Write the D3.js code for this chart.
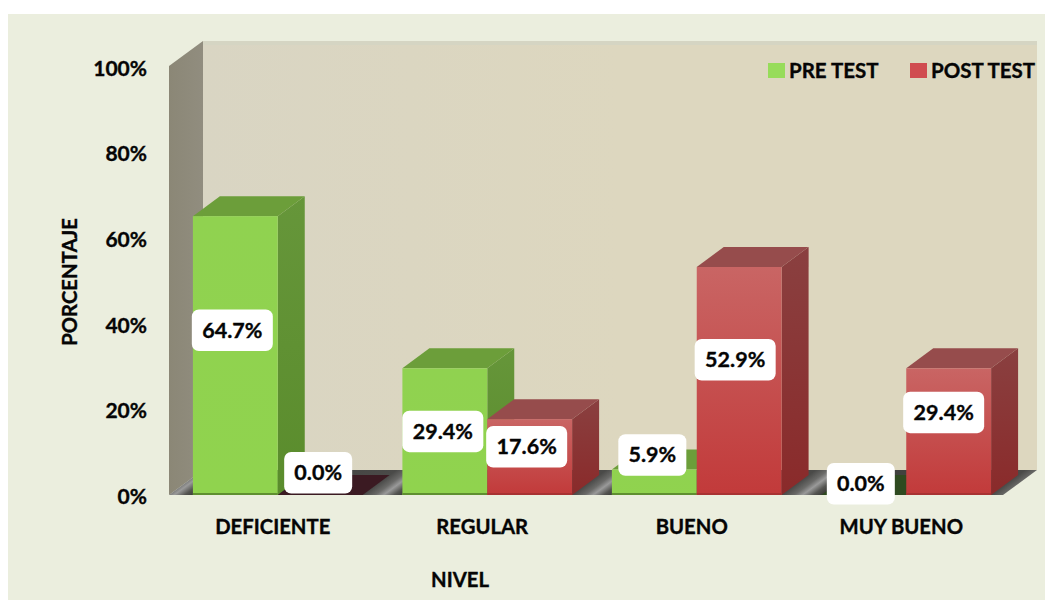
<!DOCTYPE html>
<html>
<head>
<meta charset="utf-8">
<script src="https://cdnjs.cloudflare.com/ajax/libs/d3/7.8.5/d3.min.js"></script>
<style>
html, body { margin: 0; padding: 0; background: #fff; }
svg { display: block; }
text { font-family: Lato, "Open Sans", sans-serif; font-weight: 700; fill: #050505; stroke: #050505; stroke-width: 0.35px; }
</style>
</head>
<body>
<div id="chart"></div>
<script>
var categories = ["DEFICIENTE", "REGULAR", "BUENO", "MUY BUENO"];
var seriesNames = ["PRE TEST", "POST TEST"];
var preTest = [64.7, 29.4, 5.9, 0.0];
var postTest = [0.0, 17.6, 52.9, 29.4];
var yTicks = [0, 20, 40, 60, 80, 100];

var vWidth = 1045;
var vHeight = 600;

// depth of the fake 3d box and of the bars standing in it
var wallDx = 34, wallDy = 25;
var barDx = 27, barDy = 20;

var svg = d3.select("#chart").append("svg")
    .attr("width", vWidth)
    .attr("height", vHeight);

var x0 = d3.scaleBand().domain(categories).range([173, 1011]).paddingInner(0.19).paddingOuter(0.095);
var x1 = d3.scaleBand().domain(seriesNames).range([0, x0.bandwidth()]);
var y = d3.scaleLinear().domain([0, 100]).range([495, 64]);
// the tick labels sit a little lower than the bars' own scale in the original
var yLabels = d3.scaleLinear().domain([0, 100]).range([496.5, 68.5]);

// gradients
var defs = svg.append("defs");
function gradient(id, stops, horizontal) {
    var g = defs.append("linearGradient").attr("id", id)
        .attr("x1", 0).attr("y1", 0)
        .attr("x2", horizontal ? 1 : 0).attr("y2", horizontal ? 0 : 1);
    stops.forEach(function (s, i) {
        g.append("stop").attr("offset", i / (stops.length - 1)).attr("stop-color", s);
    });
}
gradient("wall", ["#d9d5c3", "#ddd7bf", "#ddd7bf"], true);
gradient("side", ["#8b8776", "#918d7f"], true);
gradient("greenFront", ["#90d250", "#90d34e"]);
gradient("redFront", ["#c96564", "#c23a3a"]);
gradient("greenSide", ["#66963a", "#5a8c2c"]);
gradient("redSide", ["#8a4040", "#8a2a2a"]);

// floor: a grey streak running back along the depth in each gap between the groups
var floorStops = [[0, "#3d3d3a"], [0.81, "#4a4a48"], [0.87, "#6a6a68"], [0.91, "#9a9a9a"], [0.96, "#555552"], [1, "#3d3d3a"]];
var floorGrad = defs.append("linearGradient").attr("id", "floor")
    .attr("gradientUnits", "userSpaceOnUse")
    .attr("spreadMethod", "repeat")
    .attr("x1", x0(categories[0])).attr("y1", 0)
    .attr("x2", x0(categories[1])).attr("y2", 0)
    .attr("gradientTransform", "matrix(1 0 " + (-wallDx / wallDy) + " 1 " + (y(0) * wallDx / wallDy) + " 0)");
floorStops.forEach(function (s) {
    floorGrad.append("stop").attr("offset", s[0]).attr("stop-color", s[1]);
});

var fills = {
    "PRE TEST": { front: "url(#greenFront)", side: "url(#greenSide)", top: "#6c9e3a", flat: "#2f4a20", edge: "#5f8f30", legend: "#97dc5a" },
    "POST TEST": { front: "url(#redFront)", side: "url(#redSide)", top: "#964c4c", flat: "#3b1a22", edge: "#a83232", legend: "#d04c50" }
};

// chart background
svg.append("rect").attr("x", 8).attr("y", 14)
    .attr("width", vWidth - 8).attr("height", vHeight - 14)
    .attr("fill", "#ebeede");

var line = d3.line();
var base = y(0), top100 = y(100) + 2;
var left = 169, right = 1003;

// back wall, left wall and floor
svg.append("rect")
    .attr("x", left + wallDx).attr("y", top100 - wallDy)
    .attr("width", right - left).attr("height", base - top100)
    .attr("fill", "url(#wall)");
svg.append("rect")
    .attr("x", left + wallDx).attr("y", top100 - wallDy)
    .attr("width", right - left).attr("height", 4)
    .attr("fill", "#d5d5c3");
svg.append("path")
    .attr("d", line([[left, top100], [left + wallDx, top100 - wallDy], [left + wallDx, base - wallDy], [left, base]]) + "Z")
    .attr("fill", "url(#side)");
svg.append("path")
    .attr("d", line([[left, base], [left + wallDx, base - wallDy], [right + wallDx, base - wallDy], [right, base]]) + "Z")
    .attr("fill", "url(#floor)");

// bars, drawn series by series inside each group
var rows = [];
categories.forEach(function (c, i) {
    rows.push({ cat: c, name: seriesNames[0], value: preTest[i] });
    rows.push({ cat: c, name: seriesNames[1], value: postTest[i] });
});

var bars = svg.selectAll("g.bar").data(rows).enter().append("g").attr("class", "bar");

bars.append("path") // right side
    .attr("d", function (d) {
        var xr = x0(d.cat) + x1(d.name) + x1.bandwidth(), yt = y(d.value);
        return line([[xr, yt], [xr + barDx, yt - barDy], [xr + barDx, base - barDy], [xr, base]]) + "Z";
    })
    .attr("fill", function (d) { return fills[d.name].side; });

bars.append("path") // top
    .attr("d", function (d) {
        var xl = x0(d.cat) + x1(d.name), xr = xl + x1.bandwidth(), yt = y(d.value);
        return line([[xl, yt], [xl + barDx, yt - barDy], [xr + barDx, yt - barDy], [xr, yt]]) + "Z";
    })
    .attr("fill", function (d) { return d.value === 0 ? fills[d.name].flat : fills[d.name].top; });

bars.append("rect") // front
    .attr("x", function (d) { return x0(d.cat) + x1(d.name); })
    .attr("y", function (d) { return y(d.value); })
    .attr("width", x1.bandwidth())
    .attr("height", function (d) { return base - y(d.value); })
    .attr("fill", function (d) { return fills[d.name].front; });

bars.filter(function (d) { return d.value > 0; }).append("rect") // dark edge along the floor
    .attr("x", function (d) { return x0(d.cat) + x1(d.name); })
    .attr("y", base - 2)
    .attr("width", x1.bandwidth())
    .attr("height", 2)
    .attr("fill", function (d) { return fills[d.name].edge; });

// axis tick labels
var yAxis = d3.axisLeft(yLabels).tickValues(yTicks).tickFormat(function (d) { return d + "%"; }).tickSize(0).tickPadding(0);
var yG = svg.append("g").attr("transform", "translate(147,0)").call(yAxis);
yG.select(".domain").remove();
yG.selectAll("text").style("font-size", "21px").style("font-family", null);

var xAxis = d3.axisBottom(x0).tickSize(0).tickPadding(0);
var xG = svg.append("g").attr("transform", "translate(-5,519)").call(xAxis);
xG.select(".domain").remove();
xG.selectAll("text").style("font-size", "20.3px").attr("dy", "0.75em");

// axis titles
svg.append("text").attr("x", 460).attr("y", 587).attr("text-anchor", "middle")
    .style("font-size", "20.3px").text("NIVEL");
svg.append("text").attr("transform", "translate(77,282) rotate(-90)").attr("text-anchor", "middle")
    .style("font-size", "20.3px").text("PORCENTAJE");

// legend
var legendX = [768, 910];
seriesNames.forEach(function (s, i) {
    svg.append("rect").attr("x", legendX[i]).attr("y", 63).attr("width", 17).attr("height", 15)
        .attr("fill", fills[s].legend);
    svg.append("text").attr("x", legendX[i] + 21).attr("y", 78)
        .style("font-size", "20.5px").text(s);
});

// value labels, nudged by hand the same way they were in the original
var nudgeX = [-3, -2, -2, -3, -2, -4, -3, -5];
var nudgeY = [-25, -22, 0, -10, -27, -21, -11, -19];
var labelW = [81, 68];
var labelFmt = d3.format(".1f");
var labels = svg.selectAll("g.value").data(rows).enter().append("g").attr("class", "value")
    .attr("transform", function (d, i) {
        var cx = x0(d.cat) + x1(d.name) + x1.bandwidth() / 2 + nudgeX[i];
        var cy = (y(d.value) + base) / 2 + nudgeY[i];
        return "translate(" + cx + "," + cy + ")";
    });
labels.append("rect")
    .attr("x", function (d) { return -(d.value < 10 ? labelW[1] : labelW[0]) / 2; })
    .attr("y", -21)
    .attr("width", function (d) { return d.value < 10 ? labelW[1] : labelW[0]; })
    .attr("height", 41.5)
    .attr("rx", 7)
    .attr("fill", "#fff");
labels.append("text")
    .attr("text-anchor", "middle")
    .attr("y", 7)
    .style("font-size", "21.5px")
    .text(function (d) { return labelFmt(d.value) + "%"; });
</script>
</body>
</html>
